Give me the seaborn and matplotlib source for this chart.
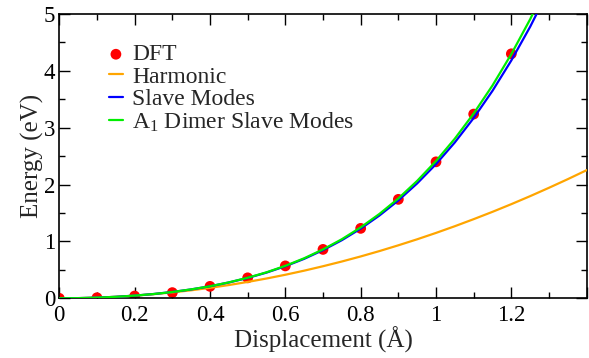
import matplotlib
matplotlib.use("Agg")
import matplotlib.pyplot as plt
import numpy as np
import pandas as pd
import seaborn as sns
from matplotlib.ticker import MultipleLocator, FuncFormatter

# DFT points
dft_x = [0.0, 0.1, 0.2, 0.3, 0.4, 0.5, 0.6, 0.7, 0.8, 0.9, 1.0, 1.1, 1.2]
dft_e = [0.0, 0.01, 0.04, 0.10, 0.21, 0.36, 0.57, 0.86, 1.23, 1.74, 2.40, 3.24, 4.30]

# model curves, sampled every 0.05 A
curve_x = [0.0, 0.05, 0.1, 0.15, 0.2, 0.25, 0.3, 0.35, 0.4, 0.45, 0.5, 0.55, 0.6,
           0.65, 0.7, 0.75, 0.8, 0.85, 0.9, 0.95, 1.0, 1.05, 1.1, 1.15, 1.2, 1.25,
           1.3, 1.35, 1.4]
harmonic_e = [0.0, 0.003, 0.012, 0.026, 0.046, 0.072, 0.104, 0.141, 0.184, 0.233,
              0.288, 0.348, 0.414, 0.486, 0.564, 0.647, 0.736, 0.831, 0.932, 1.038,
              1.150, 1.268, 1.392, 1.521, 1.656, 1.797, 1.944, 2.096, 2.254]
slave_e = [0.0, 0.003, 0.011, 0.026, 0.047, 0.075, 0.111, 0.156, 0.211, 0.278,
           0.358, 0.452, 0.564, 0.694, 0.847, 1.022, 1.225, 1.457, 1.721, 2.021,
           2.360, 2.742, 3.171, 3.650, 4.184, 4.777, 5.435]
dimer_e = [0.0, 0.003, 0.011, 0.026, 0.047, 0.075, 0.111, 0.157, 0.212, 0.280,
           0.361, 0.457, 0.571, 0.704, 0.860, 1.039, 1.247, 1.485, 1.756, 2.065,
           2.414, 2.808, 3.250, 3.744, 4.296, 4.909, 5.589]

sns.set_theme(style="ticks")
plt.rcParams["font.family"] = ["Liberation Serif", "DejaVu Serif"]
plt.rcParams["mathtext.default"] = "regular"

fig = plt.figure(figsize=(5.89, 3.58), dpi=100)
ax = fig.add_axes([59.3 / 589, 1 - 298.3 / 358, (586.7 - 59.3) / 589, (298.3 - 14) / 358])

dft = pd.DataFrame({"x": dft_x, "e": dft_e})
sns.scatterplot(data=dft, x="x", y="e", ax=ax, color="#ff0000", s=60,
                edgecolor="none", label="DFT", zorder=2)

curves = [
    ("Harmonic", harmonic_e, "#ffa500"),
    ("Slave Modes", slave_e, "#0000ff"),
    ("A$_1$ Dimer Slave Modes", dimer_e, "#00ee00"),
]
for name, vals, col in curves:
    df = pd.DataFrame({"x": curve_x[:len(vals)], "e": vals})
    sns.lineplot(data=df, x="x", y="e", ax=ax, color=col, lw=1.6, label=name,
                 sort=False, estimator=None, zorder=3)

ax.set_xlim(0, 1.4)
ax.set_ylim(0, 5)
ax.xaxis.set_major_locator(MultipleLocator(0.2))
ax.xaxis.set_minor_locator(MultipleLocator(0.1))
ax.yaxis.set_major_locator(MultipleLocator(1))
ax.yaxis.set_minor_locator(MultipleLocator(0.5))
ax.xaxis.set_major_formatter(FuncFormatter(lambda v, p: "" if v > 1.3 else f"{v:g}"))
ax.yaxis.set_major_formatter(FuncFormatter(lambda v, p: f"{v:g}"))

ax.tick_params(which="both", direction="in", top=True, right=True, colors="black",
               labelsize=16.5)
ax.tick_params(axis="x", pad=5)
ax.tick_params(axis="y", pad=3)
ax.tick_params(which="major", length=8, width=1)
ax.tick_params(which="minor", length=4, width=1)
for sp in ax.spines.values():
    sp.set_visible(True)
    sp.set_color("black")
    sp.set_linewidth(1.2)

ax.set_xlabel("Displacement (Å)", fontsize=18, labelpad=0)
ax.set_ylabel("Energy (eV)", fontsize=18, labelpad=0)

ax.legend(loc="upper left", bbox_to_anchor=(0.076, 0.928), frameon=False,
          fontsize=17, handlelength=0.6, handletextpad=0.4, labelspacing=0.03,
          borderaxespad=0)

fig.savefig("out.png", dpi=100)
